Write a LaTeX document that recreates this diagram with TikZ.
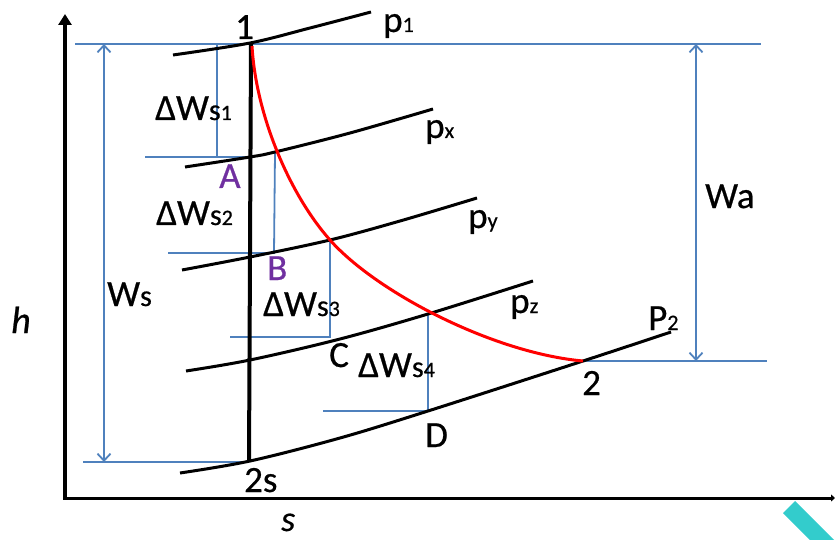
\documentclass[tikz,border=0pt]{standalone}
\usepackage{fontspec}
\setmainfont{Carlito}[FakeBold=0.6]
\usetikzlibrary{arrows.meta}
\definecolor{lineblue}{HTML}{4F81BD}
\definecolor{labpurple}{HTML}{7030A0}
\definecolor{barteal}{HTML}{33CCCC}
\newcommand\bigsz{\fontsize{37}{42}\selectfont}
\newcommand\midsz{\fontsize{30}{32}\selectfont}
\newcommand\smsz{\fontsize{22}{24}\selectfont}
\newcommand\dws[1]{{\bigsz ΔW}{\midsz s}{\smsz #1}}
\tikzset{
  lbl/.style={inner sep=0pt, anchor=base west, font=\bigsz},
  isobar/.style={black, line width=3pt, smooth, tension=0.55},
  helper/.style={lineblue, line width=1.8pt},
  dimarrow/.style={lineblue, line width=1.8pt, {Straight Barb[length=7pt,width=13pt]}-{Straight Barb[length=7pt,width=13pt]}},
  axisline/.style={black, line width=4pt},
}
\begin{document}
\begin{tikzpicture}[x=1pt,y=-1pt]
\useasboundingbox (0,0) rectangle (835,540);
% key points
\coordinate (O) at (65,498);
\coordinate (Ytop) at (65,14);
\coordinate (Xend) at (835,498);
\coordinate (p1) at (251,44);
\coordinate (p2s) at (249,462);
\coordinate (pA) at (275,153);
\coordinate (pB) at (330,240);
\coordinate (pC) at (428,314);
\coordinate (p2) at (583,361);
% teal bar
\draw[barteal, line width=17pt] (789,507) -- (845,563);
% axes
\draw[axisline, -{Triangle[length=11pt,width=13pt]}] (O) -- (Ytop);
\draw[black, line width=3pt, -{Triangle[length=4pt,width=7pt]}] ([xshift=-2pt]O) -- (Xend);
% blue helper lines
\coordinate (topL) at (75,44);
\coordinate (topR) at (761,44);
\draw[helper] (topL) -- (topR);
\coordinate (botL) at (83,462);
\draw[helper] (botL) -- (p2s);
\coordinate (waR) at (767,361);
\draw[helper] (p2) -- (waR);
\coordinate (waT) at (696,44);
\coordinate (waB) at (696,361);
\draw[dimarrow] (waT) -- (waB);
\coordinate (wsT) at (104,44);
\coordinate (wsB) at (104,462);
\draw[dimarrow] (wsT) -- (wsB);
% step lines
\coordinate (s1T) at (217,44);
\coordinate (s1B) at (217,157);
\coordinate (s1L) at (145,157);
\coordinate (s1R) at (251,157);
\draw[helper] (s1T) -- (s1B);
\draw[helper] (s1L) -- (s1R);
\coordinate (s2B) at (274,253);
\coordinate (s2L) at (168,253);
\draw[helper] (pA) -- (s2B) -- (s2L);
\coordinate (s3B) at (330,337);
\coordinate (s3L) at (230,337);
\draw[helper] (pB) -- (s3B) -- (s3L);
\coordinate (s4B) at (428,411);
\coordinate (s4L) at (323,411);
\draw[helper] (pC) -- (s4B) -- (s4L);
% isobars
\draw[isobar] plot coordinates {(173,55) (250,43) (310,28) (371,12)};
\draw[isobar] plot coordinates {(185,167) (250,157) (275,152) (350,133) (433,109)};
\draw[isobar] plot coordinates {(182,270) (250,257) (330,240) (400,221) (477,198)};
\draw[isobar] plot coordinates {(186,371) (250,360) (340,339) (428,314) (533,281)};
\draw[isobar] plot coordinates {(180,473) (250,461) (340,438) (428,411) (583,361) (671,332)};
% isentrope
\draw[black, line width=4pt] (p1) -- (p2s);
% actual expansion
\draw[red, line width=3pt] (252,46) .. controls (256,116) and (290,195) .. (pB)
   .. controls (376,292) and (493,353) .. (p2);
% labels
\node[lbl] (l1) at (235,39) {1};
\node[lbl] (lp1) at (383,32) {p{\smsz 1}};
\node[lbl] (lpx) at (425,138) {p{\smsz x}};
\node[lbl] (lpy) at (468,228) {p{\smsz y}};
\node[lbl] (lpz) at (510,313) {p{\smsz z}};
\node[lbl] (lP2) at (648,330) {P{\smsz 2}};
\node[lbl] (lw1) at (155,120) {\dws{1}};
\node[lbl, text=labpurple] (lA) at (219,188) {A};
\node[lbl] (lw2) at (156,225) {\dws{2}};
\node[lbl, text=labpurple] (lB) at (267,280) {B};
\node[lbl] (lw3) at (263,316) {\dws{3}};
\node[lbl] (lC) at (329,367) {C};
\node[lbl] (lw4) at (358,377) {\dws{4}};
\node[lbl] (lD) at (425,447) {D};
\node[lbl] (l2) at (582,395) {2};
\node[lbl] (l2s) at (244,492) {2s};
\node[lbl] (lWs) at (107,306) {W{\midsz s}};
\node[lbl] (lWa) at (705,208) {Wa};
\node[lbl, font=\fontsize{38}{40}\selectfont\itshape] (lh) at (11,333) {h};
\node[lbl, font=\fontsize{36}{40}\selectfont\itshape] (ls) at (281,531) {s};
\end{tikzpicture}
\end{document}
